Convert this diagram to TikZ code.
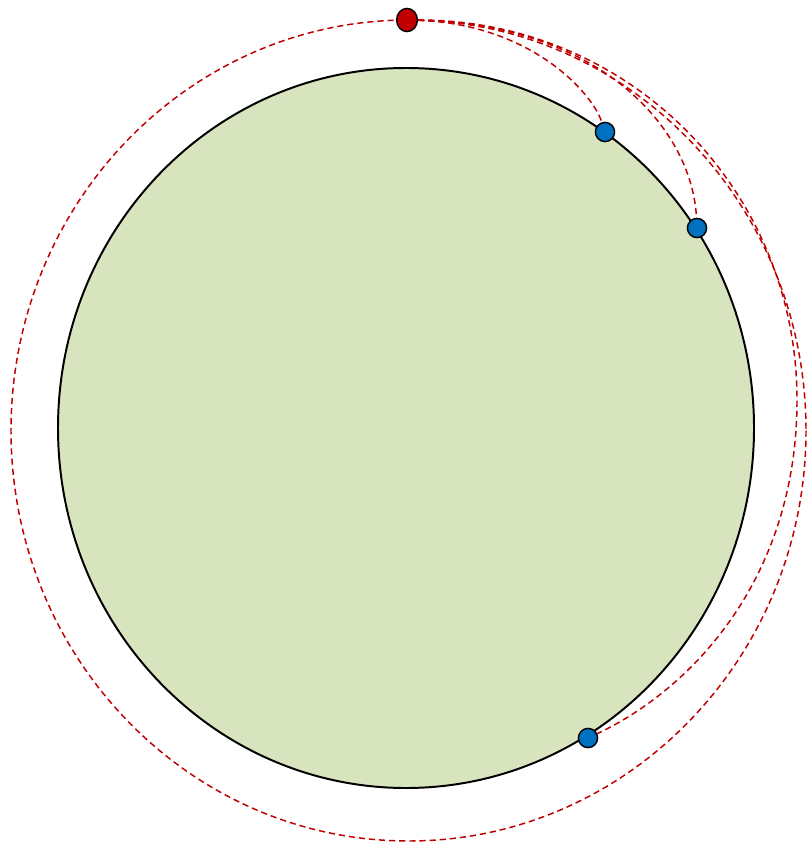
\documentclass[tikz,border=0pt]{standalone}
\usepackage{tikz}
\usetikzlibrary{shapes.geometric,positioning}
\definecolor{orbitred}{RGB}{192,0,0}
\definecolor{siteblue}{RGB}{0,112,192}
\definecolor{landgreen}{RGB}{215,228,189}

\begin{document}
\begin{tikzpicture}[
    x=0.025cm, y=-0.025cm,
    globe/.style={draw=black, fill=landgreen, line width=1.4pt},
    orbit/.style={draw=orbitred, line width=1.05pt, dash pattern=on 4.4pt off 2.8pt},
    satdot/.style={ellipse, draw=black, fill=orbitred, line width=1pt,
                   minimum width=0.52cm, minimum height=0.58cm, inner sep=0pt},
    sitedot/.style={circle, draw=black, fill=siteblue, line width=1pt,
                    minimum size=0.48cm, inner sep=0pt},
    link/.style={orbitred, line width=1.05pt, dash pattern=on 4.4pt off 2.8pt}
]
\useasboundingbox (0,0) rectangle (806,845);
% planet and orbit
\draw[globe] (406,428) ellipse [x radius=348, y radius=360];
\draw[orbit] (408.5,430.5) ellipse [x radius=397.5, y radius=410.5];
% satellite and ground sites
\node[satdot] (sat) at (407,20) {};
\node[sitedot] (s1) at (605,132) {};
\node[sitedot] (s2) at (697,228) {};
\node[sitedot] (s3) at (588,738) {};
\coordinate (rim) at (797,400);
% links
\draw[link] (sat) .. controls (530,24) and (592,92) .. (s1);
\draw[link] (sat) .. controls (600,24) and (692,128) .. (s2);
\draw[link] (sat) .. controls (630,20) and (797,190) .. (rim)
    .. controls (797,580) and (690,690) .. (s3);
\end{tikzpicture}
\end{document}
